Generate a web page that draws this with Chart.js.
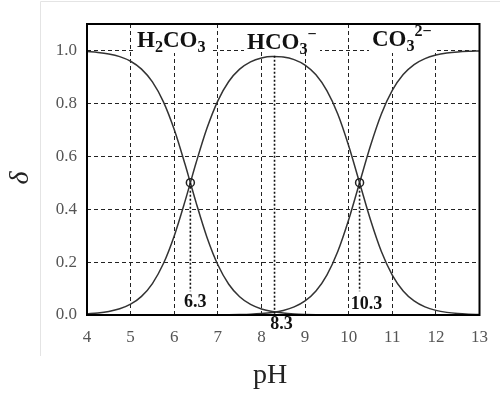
<!DOCTYPE html>
<html>
<head>
<meta charset="utf-8">
<script src="https://cdn.jsdelivr.net/npm/chart.js"></script>
<style>
  html, body { margin: 0; padding: 0; background: #fff; }
  #wrap { position: relative; width: 500px; height: 394px; }
</style>
</head>
<body>
<div id="wrap"><canvas id="speciesChart" width="500" height="394"></canvas></div>
<script>
// Carbonate species fraction vs pH
const pH = [4, 4.25, 4.5, 4.75, 5, 5.25, 5.5, 5.75, 6, 6.25, 6.37, 6.5, 6.75, 7, 7.25, 7.5, 7.75, 8, 8.25, 8.5,
            8.75, 9, 9.25, 9.5, 9.75, 10, 10.25, 10.5, 10.75, 11, 11.25, 11.5, 11.75, 12, 12.25, 12.5, 12.75, 13];
const fracH2CO3 = [0.9957, 0.9925, 0.9867, 0.9766, 0.9591, 0.9295, 0.8811, 0.8065, 0.701, 0.5686, 0.5, 0.4257, 0.2942, 0.1899, 0.1164, 0.0689, 0.0399, 0.0228, 0.0129, 0.0072,
                   0.004, 0.0022, 0.0011, 0.0006, 0.0003, 0.0001, 0, 0, 0, 0, 0, 0, 0, 0, 0, 0, 0, 0];
const fracHCO3 = [0.0043, 0.0075, 0.0133, 0.0234, 0.0409, 0.0705, 0.1189, 0.1935, 0.299, 0.4314, 0.5, 0.5743, 0.7056, 0.8096, 0.8827, 0.9294, 0.957, 0.9718, 0.9773, 0.9754,
                  0.9654, 0.9446, 0.908, 0.848, 0.76, 0.64, 0.5, 0.36, 0.24, 0.151, 0.0909, 0.0533, 0.0307, 0.0175, 0.0099, 0.0056, 0.0032, 0.0018];
const fracCO3 = [0, 0, 0, 0, 0, 0, 0, 0, 0, 0, 0, 0, 0.0002, 0.0005, 0.0009, 0.0017, 0.003, 0.0055, 0.0098, 0.0173,
                 0.0305, 0.0531, 0.0908, 0.151, 0.24, 0.36, 0.5, 0.64, 0.76, 0.849, 0.909, 0.9467, 0.9693, 0.9825, 0.9901, 0.9944, 0.9968, 0.9982];

const xTicks = [4, 5, 6, 7, 8, 9, 10, 11, 12, 13];
const yTicks = [0, 0.2, 0.4, 0.6, 0.8, 1.0];

// crossing points and the dotted drop lines
const markerX = [6.37, 10.25];
const markerY = [0.5, 0.5];
const dropX = [6.37, 8.3, 10.25];
const dropTop = [0.5, 0.98, 0.5];
const dropBottom = [0.09, 0, 0.09];
const dropText = ['6.3', '8.3', '10.3'];

const seriesFont = '"Liberation Serif", "Times New Roman", serif';

function pts(xs, ys) { return xs.map((x, i) => ({ x: x, y: ys[i] })); }

const curveStyle = {
    showLine: true, pointRadius: 0, borderColor: '#333', borderWidth: 1.5,
    cubicInterpolationMode: 'monotone', fill: false
};

const datasets = [
    { data: pts(markerX, markerY), showLine: false, pointRadius: 4, pointHoverRadius: 4,
      pointBackgroundColor: 'rgba(255,255,255,0)', pointBorderColor: '#222', pointBorderWidth: 1.5 }
];
dropX.forEach((x, i) => {
    datasets.push({ data: [{ x: x, y: dropTop[i] }, { x: x, y: dropBottom[i] }], showLine: true,
        pointRadius: 0, borderColor: '#111', borderWidth: 1.6, borderDash: [2, 2] });
});
datasets.push(Object.assign({ data: pts(pH, fracH2CO3) }, curveStyle));
datasets.push(Object.assign({ data: pts(pH, fracHCO3) }, curveStyle));
datasets.push(Object.assign({ data: pts(pH, fracCO3) }, curveStyle));

// rich text: parts with optional sub / sup
function drawRich(ctx, x, y, parts, size) {
    let cx = x;
    parts.forEach(p => {
        const s = p.mode ? size * 0.7 : size;
        ctx.font = 'bold ' + s + 'px ' + seriesFont;
        const dy = p.mode === 'sub' ? size * 0.2 : (p.mode === 'sup' ? -size * 0.45 : 0);
        ctx.fillText(p.t, cx, y + dy);
        cx += ctx.measureText(p.t).width;
    });
}

const annotations = {
    id: 'annotations',
    beforeDatasetsDraw(chart) {
        const ctx = chart.ctx;
        ctx.save();
        ctx.fillStyle = '#fff';
        // label boxes hide the grid behind them
        ctx.fillRect(134, 25, 78, 28);
        ctx.fillRect(244, 25, 76, 27);
        ctx.fillRect(369, 25, 68, 28);
        const xs = chart.scales.x;
        ctx.fillRect(xs.getPixelForValue(8.3) - 7, 316, 28, 17);
        ctx.restore();
    },
    afterDraw(chart) {
        const ctx = chart.ctx;
        const area = chart.chartArea;
        const xs = chart.scales.x;
        ctx.save();
        // faint outer frame
        ctx.strokeStyle = '#e4e4e4';
        ctx.lineWidth = 1;
        ctx.beginPath();
        ctx.moveTo(40.5, 356); ctx.lineTo(40.5, 1.5); ctx.lineTo(500, 1.5);
        ctx.stroke();
        // plot frame
        ctx.strokeStyle = '#000';
        ctx.lineWidth = 2;
        ctx.strokeRect(area.left, area.top, area.right - area.left, area.bottom - area.top);

        ctx.fillStyle = '#111';
        ctx.textBaseline = 'alphabetic';
        ctx.textAlign = 'left';
        drawRich(ctx, 137, 47, [{ t: 'H' }, { t: '2', mode: 'sub' }, { t: 'CO' }, { t: '3', mode: 'sub' }], 23);
        drawRich(ctx, 247, 49, [{ t: 'HCO' }, { t: '3', mode: 'sub' }, { t: '\u2212', mode: 'sup' }], 23);
        drawRich(ctx, 372, 46, [{ t: 'CO' }, { t: '3', mode: 'sub' }, { t: '2\u2212', mode: 'sup' }], 23);

        ctx.font = 'bold 18px ' + seriesFont;
        ctx.textAlign = 'center';
        ctx.textBaseline = 'middle';
        const offs = [[5, 302], [7, 324], [7, 304]];
        dropX.forEach((x, i) => {
            ctx.fillText(dropText[i], xs.getPixelForValue(x) + offs[i][0], offs[i][1]);
        });

        // axis titles
        ctx.fillStyle = '#222';
        ctx.font = '28px ' + seriesFont;
        ctx.textBaseline = 'alphabetic';
        ctx.fillText('pH', 270, 383);
        ctx.translate(21, 178);
        ctx.rotate(-Math.PI / 2);
        ctx.font = 'italic 28px ' + seriesFont;
        ctx.textBaseline = 'middle';
        ctx.fillText('\u03B4', 0, 0);
        ctx.restore();
    }
};

const gridOpts = { color: '#222', lineWidth: 1, drawTicks: false, borderDash: [4, 3] };
const borderOpts = { display: false, dash: [4, 3] };
const tickFont = { family: seriesFont, size: 17 };

new Chart(document.getElementById('speciesChart'), {
    type: 'scatter',
    data: { datasets: datasets },
    options: {
        responsive: false,
        animation: false,
        events: [],
        layout: { padding: { left: 0, right: 13, top: 24, bottom: 0 } },
        plugins: { legend: { display: false }, tooltip: { enabled: false } },
        scales: {
            x: {
                type: 'linear', min: 4, max: 13,
                afterBuildTicks: scale => { scale.ticks = xTicks.map(v => ({ value: v })); },
                afterFit: scale => { scale.height = 79; },
                grid: gridOpts, border: borderOpts,
                ticks: { color: '#555', font: tickFont, padding: 12, maxRotation: 0, callback: v => String(v) }
            },
            y: {
                type: 'linear', min: 0, max: 1.1,
                afterBuildTicks: scale => { scale.ticks = yTicks.map(v => ({ value: v })); },
                afterFit: scale => { scale.width = 87; },
                grid: gridOpts, border: borderOpts,
                ticks: { color: '#555', font: tickFont, padding: 10, callback: v => v.toFixed(1) }
            }
        }
    },
    plugins: [annotations]
});
</script>
</body>
</html>
